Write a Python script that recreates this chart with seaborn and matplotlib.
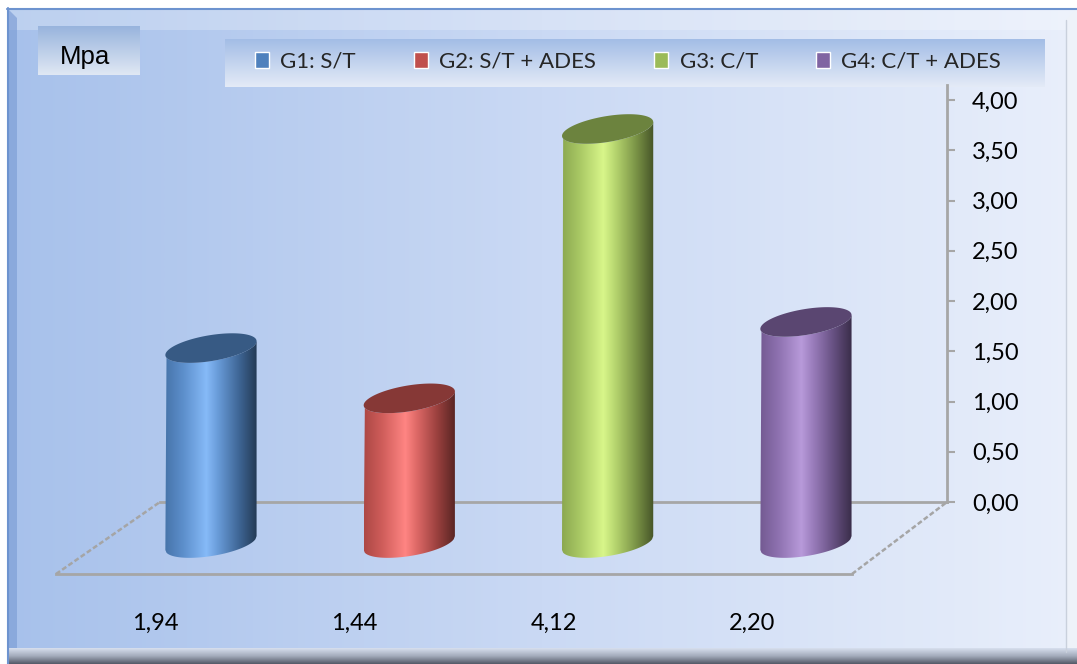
import numpy as np
import matplotlib
matplotlib.use("Agg")
import matplotlib.pyplot as plt
import seaborn as sns
import pandas as pd
from matplotlib.colors import to_rgb, LinearSegmentedColormap
from matplotlib.path import Path
from matplotlib.patches import PathPatch, Polygon

# ---------------- data ----------------
groups = ["G1: S/T", "G2: S/T + ADES", "G3: C/T", "G4: C/T + ADES"]
values = [1.94, 1.44, 4.12, 2.20]
colors = ["#4f81bd", "#c0504d", "#9bbb59", "#8064a2"]
highlights = ["#86baf8", "#ff8583", "#d8f68a", "#b89ada"]
y_ticks = [0.0, 0.5, 1.0, 1.5, 2.0, 2.5, 3.0, 3.5, 4.0]
unit_label = "Mpa"

def fmt(v):
    return f"{v:.2f}".replace(".", ",")

# ---------------- figure ----------------
sns.set_style("white")
plt.rcParams["font.family"] = ["Lato", "DejaVu Sans"]
W, H = 1077, 664
fig = plt.figure(figsize=(W / 100, H / 100), dpi=100)
fig.patch.set_facecolor("white")

def fx(x):
    return x / W

def fy(y):
    return 1 - y / H

# background axes in pixel coordinates
bg = fig.add_axes([0, 0, 1, 1], zorder=-10)
bg.set_autoscale_on(False)
bg.set_xlim(0, W)
bg.set_ylim(H, 0)
bg.axis("off")

def grad(axx, x0, x1, y0, y1, stops, vertical=False, zorder=0, **kw):
    cmap = LinearSegmentedColormap.from_list("g", stops)
    t = np.linspace(0, 1, 256)
    arr = cmap(t)[:, :3]
    img = arr[:, None, :] if vertical else arr[None, :, :]
    return axx.imshow(img, extent=(x0, x1, y1, y0), aspect="auto",
                      interpolation="bilinear", zorder=zorder, **kw)

# chart area gradient
grad(bg, 7, W, 8, H, [(0, "#a7c1eb"), (0.5, "#cad9f4"), (1, "#e9effb")], zorder=0)
# top bevel light strip
grad(bg, 7, W, 8, 30, [(0, (1, 1, 1)), (1, (1, 1, 1))], vertical=True, zorder=1, alpha=0.25)
# left bevel
bg.add_patch(Polygon([(7, 8), (17, 18), (17, 652), (7, 664)], closed=True,
                     facecolor="#7f9fd6", edgecolor="none", alpha=0.7, zorder=2))
# right bevel
bg.add_patch(Polygon([(W, 8), (1066, 20), (1066, 652), (W, 664)], closed=True,
                     facecolor="#eef2f9", edgecolor="none", zorder=2))
bg.plot([1066, 1066], [20, 652], color="#c9d0dc", lw=1, zorder=3)
# bottom shadow
grad(bg, 7, W, 648, H, [(0, "#d8e0ef"), (0.5, "#a3abbb"), (1, "#525866")],
     vertical=True, zorder=2)
# top border line
bg.plot([7, W], [8.5, 8.5], color="#6d93cf", lw=1.5, zorder=3)
bg.plot([7.5, 7.5], [8, H], color="#6d93cf", lw=1.5, zorder=3)

# unit box
grad(bg, 38, 140, 26, 75, [(0, "#98b4dd"), (1, "#e0e8f4")], vertical=True, zorder=4)
bg.text(85, 64, unit_label, ha="center", va="baseline", fontsize=18.5,
        family=["Liberation Sans", "DejaVu Sans"], color="black", zorder=5)

# legend box
grad(bg, 225, 1045, 39, 87, [(0, "#a3bde6"), (1, "#e4ebf7")], vertical=True, zorder=4)

# floor diagonals (3D floor edges)
bg.plot([56, 160], [574, 502], color="#a5a5a5", lw=1.8, ls=(0, (2, 1)), zorder=5)
bg.plot([852, 947], [574, 502], color="#a5a5a5", lw=1.8, ls=(0, (2, 1)), zorder=5)

# ---------------- back wall axis (value axis) ----------------
ax2 = fig.add_axes([fx(160), fy(502), 787 / W, 417 / H])
ax2.patch.set_alpha(0)
ax2.set_xlim(0, 1)
ax2.set_ylim(0, 4.15)
for s in ["left", "top"]:
    ax2.spines[s].set_visible(False)
for s in ["right", "bottom"]:
    ax2.spines[s].set_color("#a6a6a6")
    ax2.spines[s].set_linewidth(2)
ax2.yaxis.tick_right()
ax2.set_yticks(y_ticks, [fmt(v) for v in y_ticks])
ax2.set_xticks([])
ax2.tick_params(axis="y", direction="out", length=6, width=1.5, color="#a6a6a6",
                pad=12, labelsize=17, labelcolor="black")

# ---------------- front floor axis (category axis) ----------------
ax3 = fig.add_axes([fx(56), fy(574), 796 / W, 0.002])
ax3.patch.set_alpha(0)
ax3.set_xlim(-0.5, 3.5)
for s in ["left", "top", "right"]:
    ax3.spines[s].set_visible(False)
ax3.spines["bottom"].set_color("#a6a6a6")
ax3.spines["bottom"].set_linewidth(2)
ax3.set_yticks([])
ax3.set_xticks(range(len(values)), [fmt(v) for v in values])
ax3.set_xticks(np.arange(-0.5, len(values), 1.0), minor=True)
ax3.tick_params(axis="x", which="major", length=0, pad=28, labelsize=17, labelcolor="black")
ax3.tick_params(axis="x", which="minor", length=6, width=1.5, color="#a6a6a6", direction="out")

# ---------------- bars ----------------
ax = fig.add_axes([fx(111.8), fy(573.2), 793.3 / W, 482.4 / H])
df = pd.DataFrame({"group": groups, "value": values})
sns.barplot(data=df, x="group", y="value", hue="group", palette=colors,
            width=0.46, saturation=1, ax=ax, legend=True)

sns.move_legend(ax, "center", bbox_to_anchor=(fx(628), fy(62)),
                bbox_transform=fig.transFigure, ncol=4, frameon=False, title="",
                fontsize=16, columnspacing=2.6, handletextpad=0.5,
                handlelength=0.65, handleheight=0.75)

def darken(c, f):
    c = np.array(to_rgb(c))
    return tuple(c * (1 - f))

def mix(c1, c2, f):
    c1, c2 = np.array(to_rgb(c1)), np.array(to_rgb(c2))
    return tuple(c1 * (1 - f) + c2 * f)

b = 0.13      # ellipse half-height (data units)
shear = 0.30  # perspective tilt

for cont, col, hl in zip(ax.containers, colors, highlights):
    for bar in cont:
        x0, w, h = bar.get_x(), bar.get_width(), bar.get_height()
        bar.set_visible(False)
        cx, a = x0 + w / 2, w / 2
        t = np.linspace(-1, 1, 80)
        xs = cx + a * t
        ys_b = shear * (xs - cx) - b * np.sqrt(1 - t ** 2)
        ys_t = h + shear * (xs - cx) - b * np.sqrt(1 - t ** 2)
        verts = np.concatenate([np.column_stack([xs, ys_b]),
                                np.column_stack([xs[::-1], ys_t[::-1]])])
        clip = PathPatch(Path(verts, closed=True), transform=ax.transData,
                         facecolor="none", edgecolor="none")
        ax.add_patch(clip)
        stops = [(0.0, darken(col, 0.1)), (0.2, mix(col, hl, 0.25)), (0.45, hl),
                 (0.58, mix(col, hl, 0.45)), (0.8, darken(col, 0.2)), (1.0, darken(col, 0.55))]
        im = grad(ax, cx - a, cx + a, h + b + shear * a, ys_b.min(), stops, zorder=2)
        im.set_extent((cx - a, cx + a, ys_b.min(), h + shear * a + b))
        im.set_clip_path(clip)
        th = np.linspace(0, 2 * np.pi, 120)
        ex = cx + a * np.cos(th)
        ey = h + shear * a * np.cos(th) + b * np.sin(th)
        ax.add_patch(Polygon(np.column_stack([ex, ey]), closed=True,
                             facecolor=darken(col, 0.3), edgecolor="none", zorder=3))

ax.set_xlim(-0.5, 3.5)
ax.set_ylim(-0.3, 4.5)
ax.axis("off")

fig.savefig("out.png", dpi=100)
